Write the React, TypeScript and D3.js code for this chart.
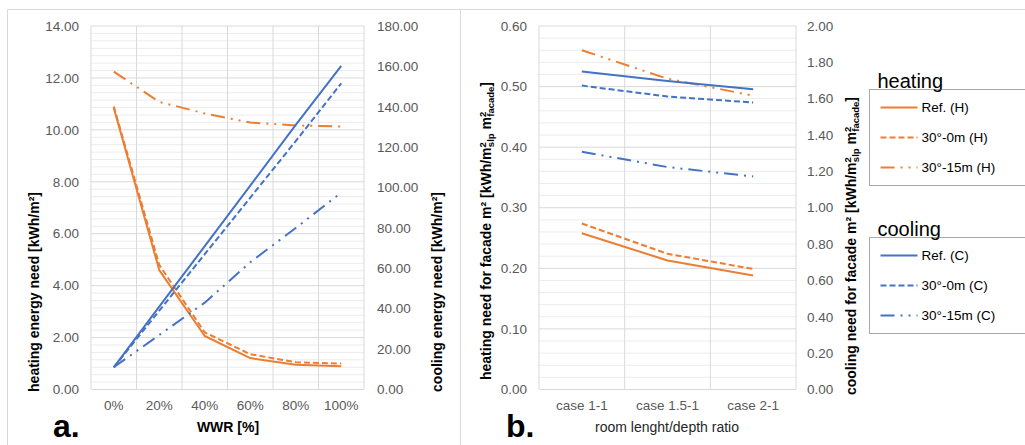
import React from 'react';
import * as d3 from 'd3';

// ---------- Data ----------
const wwrCats = ['0%', '20%', '40%', '60%', '80%', '100%'];
const heatRefA = [10.85, 4.6, 2.06, 1.21, 0.95, 0.9];
const heat0mA = [10.9, 4.8, 2.2, 1.36, 1.05, 1.0];
const heat15mA = [12.24, 11.08, 10.63, 10.28, 10.17, 10.13];
const coolRefA = [11, 41, 71, 101, 131, 160.3];
const cool0mA = [11, 39, 67, 95, 123, 151.6];
const cool15mA = [11, 27, 43, 63, 80, 97.5];

const caseCats = ['case 1-1', 'case 1.5-1', 'case 2-1'];
const heatRefB = [0.258, 0.213, 0.188];
const heat0mB = [0.274, 0.224, 0.199];
const heat15mB = [0.56, 0.513, 0.485];
const coolRefB = [1.749, 1.698, 1.652];
const cool0mB = [1.672, 1.612, 1.579];
const cool15mB = [1.308, 1.224, 1.172];

const leftTicksA = [0, 2, 4, 6, 8, 10, 12, 14];
const rightTicksA = [0, 20, 40, 60, 80, 100, 120, 140, 160, 180];
const leftTicksB = [0, 0.1, 0.2, 0.3, 0.4, 0.5, 0.6];
const rightTicksB = [0, 0.2, 0.4, 0.6, 0.8, 1.0, 1.2, 1.4, 1.6, 1.8, 2.0];

const legendHeating = ['Ref. (H)', '30°-0m (H)', '30°-15m (H)'];
const legendCooling = ['Ref. (C)', '30°-0m (C)', '30°-15m (C)'];

const ORANGE = '#ED7D31';
const BLUE = '#4472C4';
const DASHES = [null, '6,3', '14,6,2,6,2,6'];
const FONT = '"Liberation Sans", Arial, Helvetica, sans-serif';
const TICK = '#595959';
const GRID = '#d9d9d9';
const MINOR = '#ececec';

type PanelProps = {
  cats: string[];
  x0: number; x1: number; y0: number; y1: number;
  left: d3.ScaleLinear<number, number>;
  right: d3.ScaleLinear<number, number>;
  leftTicks: number[]; rightTicks: number[];
  minorPerMajor: number;
  leftLabX: number; rightLabX: number;
  heat: number[][]; cool: number[][];
};

function Panel(p: PanelProps) {
  const xs = d3.scaleBand<string>().domain(p.cats).range([p.x0, p.x1]).padding(0);
  const cx = (c: string) => (xs(c) as number) + xs.bandwidth() / 2;
  const minors: number[] = [];
  const lt = p.leftTicks;
  for (let i = 0; i < lt.length - 1; i++) {
    for (let k = 1; k < p.minorPerMajor; k++) {
      minors.push(lt[i] + ((lt[i + 1] - lt[i]) * k) / p.minorPerMajor);
    }
  }
  const lineL = d3.line<number>().x((_, i) => cx(p.cats[i])).y((d) => p.left(d));
  const lineR = d3.line<number>().x((_, i) => cx(p.cats[i])).y((d) => p.right(d));
  const bounds = p.cats.map((c) => xs(c) as number).concat([p.x1]);
  return (
    <g>
      {minors.map((m, i) => (
        <line key={'mn' + i} x1={p.x0} x2={p.x1} y1={p.left(m)} y2={p.left(m)} stroke={MINOR} strokeWidth={1} />
      ))}
      {lt.map((t, i) => (
        <line key={'mj' + i} x1={p.x0} x2={p.x1} y1={p.left(t)} y2={p.left(t)} stroke={GRID} strokeWidth={1} />
      ))}
      {bounds.map((b, i) => (
        <line key={'v' + i} x1={b} x2={b} y1={p.y0} y2={p.y1} stroke={GRID} strokeWidth={1} />
      ))}
      {lt.map((t, i) => (
        <text key={'lt' + i} x={p.leftLabX} y={p.left(t)} dy="0.35em" textAnchor="end" fontSize={13.5} fill={TICK}>
          {t.toFixed(2)}
        </text>
      ))}
      {p.rightTicks.map((t, i) => (
        <text key={'rt' + i} x={p.rightLabX} y={p.right(t)} dy="0.35em" textAnchor="start" fontSize={13.5} fill={TICK}>
          {t.toFixed(2)}
        </text>
      ))}
      {p.cats.map((c, i) => (
        <text key={'xc' + i} x={cx(c)} y={p.y1 + 20} textAnchor="middle" fontSize={13.5} fill={TICK}>
          {c}
        </text>
      ))}
      {p.heat.map((s, i) => (
        <path key={'h' + i} d={lineL(s) || ''} fill="none" stroke={ORANGE} strokeWidth={2}
          strokeDasharray={DASHES[i] || undefined} strokeLinejoin="round" />
      ))}
      {p.cool.map((s, i) => (
        <path key={'c' + i} d={lineR(s) || ''} fill="none" stroke={BLUE} strokeWidth={2}
          strokeDasharray={DASHES[i] || undefined} strokeLinejoin="round" />
      ))}
    </g>
  );
}

function Legend({ title, items, color, x, y }: { title: string; items: string[]; color: string; x: number; y: number }) {
  return (
    <g>
      <text x={x + 8} y={y - 2} fontSize={20} fill="#000">{title}</text>
      <rect x={x} y={y} width={220} height={96} fill="none" stroke="#555" strokeWidth={1} strokeDasharray="1,1" />
      {items.map((it, i) => {
        const yy = y + 18 + i * 30;
        return (
          <g key={i}>
            <line x1={x + 11} x2={x + 48} y1={yy} y2={yy} stroke={color} strokeWidth={2}
              strokeDasharray={DASHES[i] || undefined} />
            <text x={x + 52} y={yy} dy="0.35em" fontSize={13.5} fill="#000">{it}</text>
          </g>
        );
      })}
    </g>
  );
}

export default function App() {
  const yTop = 26, yBot = 389.5;
  const aLeft = d3.scaleLinear().domain([0, 14]).range([yBot, yTop]);
  const aRight = d3.scaleLinear().domain([0, 180]).range([yBot, yTop]);
  const bLeft = d3.scaleLinear().domain([0, 0.6]).range([yBot, yTop]);
  const bRight = d3.scaleLinear().domain([0, 2]).range([yBot, yTop]);

  return (
    <svg width={1025} height={445} style={{ position: 'absolute', left: 0, top: 0, background: '#fff' }}
      fontFamily={FONT}>
      <rect x={0} y={0} width={1025} height={445} fill="#fff" />
      {/* frames */}
      <line x1={7.5} x2={1025} y1={9.5} y2={9.5} stroke="#d9d9d9" />
      <line x1={7.5} x2={7.5} y1={9.5} y2={445} stroke="#d9d9d9" />
      <line x1={460.5} x2={460.5} y1={9.5} y2={445} stroke="#d9d9d9" />

      <Panel cats={wwrCats} x0={91} x1={364} y0={yTop} y1={yBot} left={aLeft} right={aRight}
        leftTicks={leftTicksA} rightTicks={rightTicksA} minorPerMajor={7} leftLabX={79} rightLabX={377}
        heat={[heatRefA, heat0mA, heat15mA]} cool={[coolRefA, cool0mA, cool15mA]} />
      <Panel cats={caseCats} x0={539} x1={796} y0={yTop} y1={yBot} left={bLeft} right={bRight}
        leftTicks={leftTicksB} rightTicks={rightTicksB} minorPerMajor={5} leftLabX={527} rightLabX={807}
        heat={[heatRefB, heat0mB, heat15mB]} cool={[coolRefB, cool0mB, cool15mB]} />

      {/* panel a titles */}
      <text transform="translate(38.5,292) rotate(-90)" textAnchor="middle" fontSize={14} fontWeight="bold" fill="#000">
        heating energy need [kWh/m²]
      </text>
      <text transform="translate(442,292) rotate(-90)" textAnchor="middle" fontSize={14} fontWeight="bold" fill="#000">
        cooling energy need [kWh/m²]
      </text>
      <text x={228} y={432} textAnchor="middle" fontSize={14} fontWeight="bold" fill="#000">WWR [%]</text>
      <text x={53} y={437} fontSize={32} fontWeight="bold" fill="#000">a.</text>

      {/* panel b titles */}
      <text transform="translate(491,231) rotate(-90)" textAnchor="middle" fontSize={14} fontWeight="bold" fill="#000">
        heating need for facade m² [kWh/m
        <tspan fontSize={9.5} dy={-5}>2</tspan>
        <tspan fontSize={9.5} dx={-5} dy={8}>slp</tspan>
        <tspan dy={-3}> m</tspan>
        <tspan fontSize={9.5} dy={-5}>2</tspan>
        <tspan fontSize={9.5} dx={-5} dy={8}>facade</tspan>
        <tspan dy={-3}>]</tspan>
      </text>
      <text transform="translate(856,246) rotate(-90)" textAnchor="middle" fontSize={14} fontWeight="bold" fill="#000">
        cooling need for facade m² [kWh/m
        <tspan fontSize={9.5} dy={-5}>2</tspan>
        <tspan fontSize={9.5} dx={-5} dy={8}>slp</tspan>
        <tspan dy={-3}> m</tspan>
        <tspan fontSize={9.5} dy={-5}>2</tspan>
        <tspan fontSize={9.5} dx={-5} dy={8}>facade</tspan>
        <tspan dy={-3}>]</tspan>
      </text>
      <text x={667} y={432} textAnchor="middle" fontSize={14} fill="#262626">room lenght/depth ratio</text>
      <text x={506} y={437} fontSize={32} fontWeight="bold" fill="#000">b.</text>

      <Legend title="heating" items={legendHeating} color={ORANGE} x={869.5} y={89.5} />
      <Legend title="cooling" items={legendCooling} color={BLUE} x={869.5} y={237.5} />
    </svg>
  );
}
